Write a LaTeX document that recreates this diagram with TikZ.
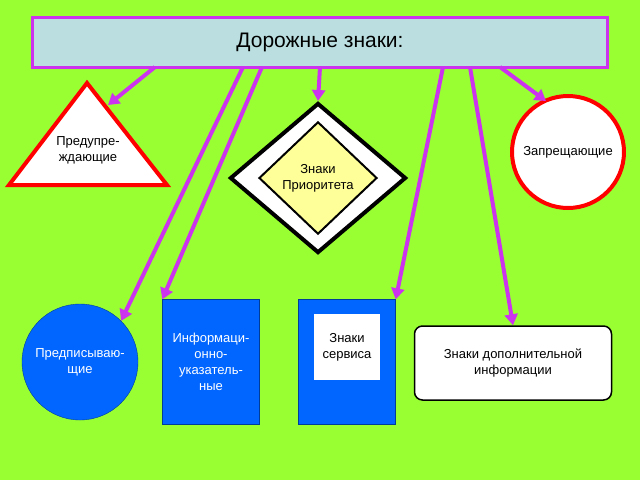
\documentclass[tikz,border=0pt]{standalone}
\usepackage{fontspec}
\setmainfont{Liberation Sans}
\usetikzlibrary{arrows.meta,shapes.geometric}
\definecolor{MyGreen}{HTML}{99FF33}
\definecolor{MyPurple}{HTML}{CC33EE}
\definecolor{MyBlue}{HTML}{0066FF}
\definecolor{MyCyan}{HTML}{BBDFE0}
\definecolor{MyYellow}{HTML}{FFFF99}
\begin{document}
\begin{tikzpicture}[x=1pt,y=-1pt,
		every node/.style={align=center,font=\fontsize{13}{16}\selectfont},
		link/.style={draw=MyPurple,line width=4pt,-{Triangle[length=11pt,width=13pt]}},
		bluebox/.style={rectangle,fill=MyBlue,draw=MyBlue!60!black,minimum width=97pt,minimum height=125pt,text=white},
	]
	\fill[MyGreen] (0,0) rectangle (640,480);
	\useasboundingbox (0,0) rectangle (640,480);

	\node (title) [rectangle,fill=MyCyan,draw=MyPurple,line width=3pt,minimum width=575pt,minimum height=50pt,font=\fontsize{21}{24}\selectfont] at (320,42) {Дорожные знаки:};

	\draw[draw=red,line width=4pt,fill=white,line join=miter] (87,83) -- (9,185) -- (167,185) -- cycle;
	\node (warn) at (88,150) {Предупре-\\ждающие};

	\node (prio) [diamond,draw=black,line width=4pt,fill=white,minimum width=176pt,minimum height=150pt] at (318,178) {};
	\node (prioin) [diamond,draw=black,line width=2pt,fill=MyYellow,minimum width=118pt,minimum height=100pt] at (318,178) {Знаки\\Приоритета};

	\node (forbid) [circle,draw=red,line width=4pt,fill=white,minimum size=112pt,inner sep=0pt] at (568,152) {Запрещающие};
	\node (order) [circle,fill=MyBlue,draw=MyBlue!60!black,minimum size=116pt,inner sep=0pt,text=white] at (80,362) {Предписываю-\\щие};
	\node (info) [bluebox] at (211,362) {Информаци-\\онно-\\указатель-\\ные};
	\node (service) [bluebox] at (347,362) {};
	\node (servin) [rectangle,fill=white,minimum width=66pt,minimum height=66pt,inner sep=0pt] at (347,347) {Знаки\\сервиса};
	\node (extra) [rectangle,rounded corners=8pt,draw=black,line width=1.5pt,fill=white,minimum width=197pt,minimum height=74pt] at (513,363) {Знаки дополнительной\\информации};

	\coordinate (t1) at (155,67);
	\coordinate (t2) at (243,67);
	\coordinate (t3) at (262,67);
	\coordinate (t4) at (320,67);
	\coordinate (t5) at (443,67);
	\coordinate (t6) at (470,67);
	\coordinate (t7) at (500,67);

	\draw[link] (t1) -- (108,105);
	\draw[link] (t4) -- (prio.north);
	\draw[link] (t7) -- (546,101);
	\draw[link] (t2) -- (order.north east);
	\draw[link] (t3) -- (info.north west);
	\draw[link] (t5) -- (service.north east);
	\draw[link] (t6) -- (extra.north);
\end{tikzpicture}
\end{document}
